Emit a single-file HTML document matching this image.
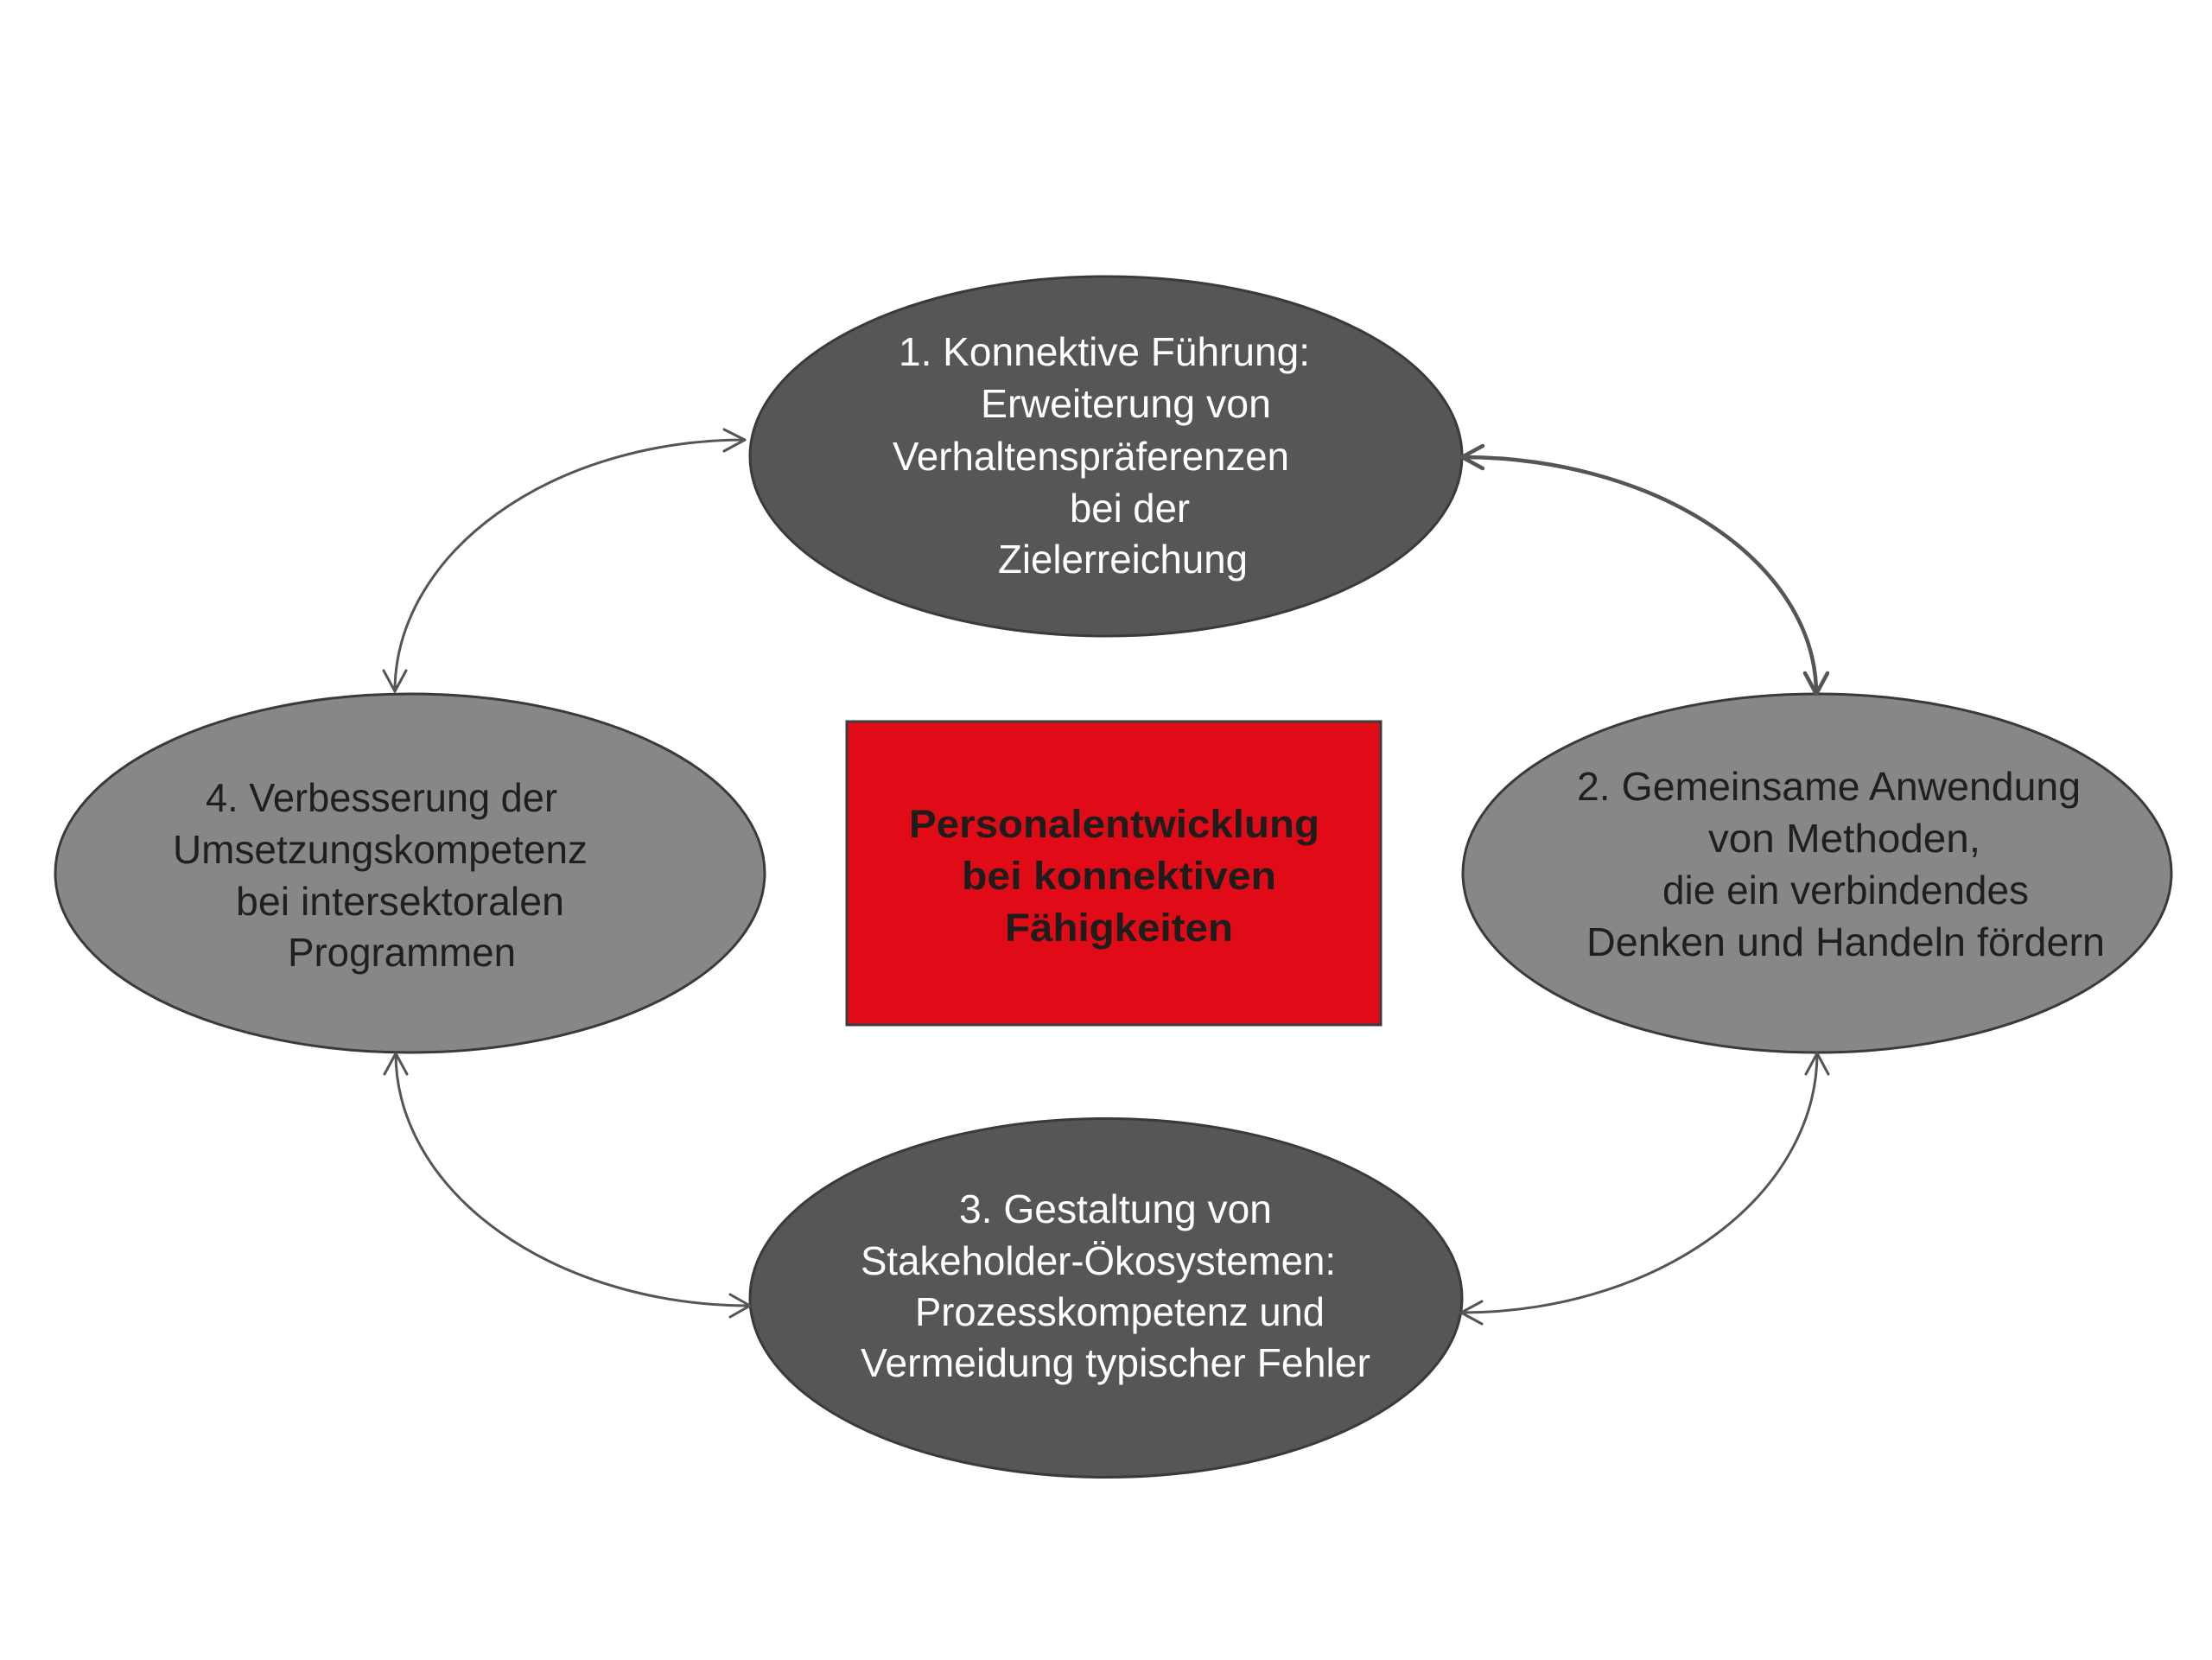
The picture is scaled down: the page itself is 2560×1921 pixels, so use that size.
<!DOCTYPE html>
<html>
<head>
<meta charset="utf-8">
<style>
  html, body { margin: 0; padding: 0; background: #ffffff; }
  body { width: 2560px; height: 1921px; overflow: hidden; }
  svg { display: block; }
  .w { fill: #ffffff; font-family: "Liberation Sans", "DejaVu Sans", sans-serif; font-size: 46px; }
  .d { fill: #1f1f1d; font-family: "Liberation Sans", "DejaVu Sans", sans-serif; font-size: 46px; }
  .b { fill: #1d1d1b; font-family: "Liberation Sans", "DejaVu Sans", sans-serif; font-size: 45px; font-weight: bold; }
</style>
</head>
<body>
<svg width="2560" height="1921" viewBox="0 0 2560 1921" xmlns="http://www.w3.org/2000/svg">
  <rect x="0" y="0" width="2560" height="1921" fill="#ffffff"/>

  <!-- Ellipses -->
  <ellipse cx="1280" cy="528" rx="412" ry="208" fill="#575655" stroke="#3a3a3a" stroke-width="3"/>
  <ellipse cx="2103" cy="1010.5" rx="410" ry="207.5" fill="#878787" stroke="#3a3a3a" stroke-width="3"/>
  <ellipse cx="1280" cy="1502" rx="412" ry="207.5" fill="#575655" stroke="#3a3a3a" stroke-width="3"/>
  <ellipse cx="474.5" cy="1010.5" rx="410.5" ry="207.5" fill="#878787" stroke="#3a3a3a" stroke-width="3"/>

  <!-- Center red box -->
  <rect x="980" y="835" width="618" height="351" fill="#e10b18" stroke="#3c3c3c" stroke-width="3"/>

  <!-- Connectors -->
  <g fill="none" stroke="#555555" stroke-width="3" stroke-linecap="round" stroke-linejoin="round">
    <!-- A: left ellipse top <-> top ellipse left -->
    <path d="M457 800 A405 291 0 0 1 862 509"/>
    <polyline points="838,497 862,509 838,522"/>
    <polyline points="444,776 457,800 470,776"/>
    <!-- C: left ellipse bottom <-> bottom ellipse left -->
    <path d="M458 1219 A410 292 0 0 0 868 1511"/>
    <polyline points="445,1243 458,1219 471,1243"/>
    <polyline points="845,1498 868,1511 845,1524"/>
    <!-- D: right ellipse bottom <-> bottom ellipse right -->
    <path d="M2103 1219 A412 300 0 0 1 1691 1519"/>
    <polyline points="2090,1243 2103,1219 2116,1243"/>
    <polyline points="1715,1506 1691,1519 1715,1532"/>
  </g>
  <g fill="none" stroke="#555555" stroke-width="4.5" stroke-linecap="round" stroke-linejoin="round">
    <!-- B: top ellipse right <-> right ellipse top -->
    <path d="M1692 529 A410 274 0 0 1 2102 803"/>
    <polyline points="1716,516 1692,529 1716,542"/>
    <polyline points="2089,779 2102,803 2115,779"/>
  </g>

  <!-- Top ellipse text -->
  <text class="w" x="1040" y="423" textLength="476" lengthAdjust="spacingAndGlyphs">1. Konnektive Führung:</text>
  <text class="w" x="1135" y="483" textLength="336" lengthAdjust="spacingAndGlyphs">Erweiterung von</text>
  <text class="w" x="1033" y="544" textLength="459" lengthAdjust="spacingAndGlyphs">Verhaltenspräferenzen</text>
  <text class="w" x="1238" y="604" textLength="139" lengthAdjust="spacingAndGlyphs">bei der</text>
  <text class="w" x="1155" y="663" textLength="289" lengthAdjust="spacingAndGlyphs">Zielerreichung</text>

  <!-- Right ellipse text -->
  <text class="d" x="1825" y="926" textLength="583" lengthAdjust="spacingAndGlyphs">2. Gemeinsame Anwendung</text>
  <text class="d" x="1977" y="986" textLength="315" lengthAdjust="spacingAndGlyphs">von Methoden,</text>
  <text class="d" x="1924" y="1046" textLength="424" lengthAdjust="spacingAndGlyphs">die ein verbindendes</text>
  <text class="d" x="1836" y="1106" textLength="600" lengthAdjust="spacingAndGlyphs">Denken und Handeln fördern</text>

  <!-- Bottom ellipse text -->
  <text class="w" x="1110" y="1415" textLength="362" lengthAdjust="spacingAndGlyphs">3. Gestaltung von</text>
  <text class="w" x="996" y="1475" textLength="550" lengthAdjust="spacingAndGlyphs">Stakeholder-Ökosystemen:</text>
  <text class="w" x="1059" y="1534" textLength="474" lengthAdjust="spacingAndGlyphs">Prozesskompetenz und</text>
  <text class="w" x="996" y="1593" textLength="590" lengthAdjust="spacingAndGlyphs">Vermeidung typischer Fehler</text>

  <!-- Left ellipse text -->
  <text class="d" x="238" y="939" textLength="407" lengthAdjust="spacingAndGlyphs">4. Verbesserung der</text>
  <text class="d" x="200" y="999" textLength="480" lengthAdjust="spacingAndGlyphs">Umsetzungskompetenz</text>
  <text class="d" x="273" y="1059" textLength="380" lengthAdjust="spacingAndGlyphs">bei intersektoralen</text>
  <text class="d" x="333" y="1118" textLength="264" lengthAdjust="spacingAndGlyphs">Programmen</text>

  <!-- Center box text -->
  <text class="b" x="1052" y="969" textLength="475" lengthAdjust="spacingAndGlyphs">Personalentwicklung</text>
  <text class="b" x="1113" y="1029" textLength="364" lengthAdjust="spacingAndGlyphs">bei konnektiven</text>
  <text class="b" x="1163" y="1089" textLength="264" lengthAdjust="spacingAndGlyphs">Fähigkeiten</text>
</svg>
</body>
</html>
